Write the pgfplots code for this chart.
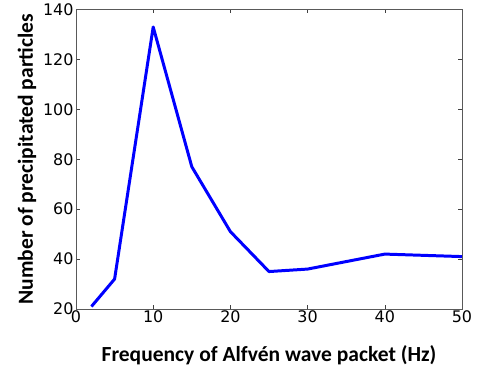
\documentclass[border=0pt]{standalone}
\usepackage{pgfplots}
\pgfplotsset{compat=1.18}
\usepackage{fontspec}
\setmainfont{DejaVu Sans}
\newfontfamily\labelfont{Carlito}
\begin{document}
\begin{tikzpicture}[x=1bp,y=1bp]
\begin{axis}[
  at={(0,0)}, anchor=south west,
  scale only axis,
  width=386bp, height=299.5bp,
  xmin=0, xmax=50, ymin=20, ymax=140,
  xtick={0,10,20,30,40,50},
  ytick={20,40,60,80,100,120,140},
  tick align=inside,
  major tick length=4bp,
  minor tick num=0,
  axis line style={color=black!65, line width=0.8pt},
  tick style={color=black!75, line width=0.6pt},
  /pgf/number format/assume math mode=true,
  ticklabel style={font=\fontsize{16}{19}\selectfont, text=black},
  xticklabel style={yshift=1.5bp},
  yticklabel style={xshift=1bp},
  xlabel={Frequency of Alfvén wave packet (Hz)},
  ylabel={Number of precipitated particles},
  xlabel style={font=\labelfont\bfseries\fontsize{21.6}{24}\selectfont, at={(axis description cs:0.5,-0.154)}, anchor=center},
  ylabel style={font=\labelfont\bfseries\fontsize{21.6}{24}\selectfont, at={(axis description cs:-0.127,0.5)}, anchor=center, rotate=0},
  clip=false,
]
\addplot[color={rgb,255:red,0;green,0;blue,255}, line width=3pt, line join=round] coordinates {
  (2,21) (5,32) (10,133) (15,77) (20,51) (25,35) (30,36) (40,42) (50,41)
};
\end{axis}
\path (-76bp,-62bp) rectangle (407bp,309bp);
\end{tikzpicture}
\end{document}
